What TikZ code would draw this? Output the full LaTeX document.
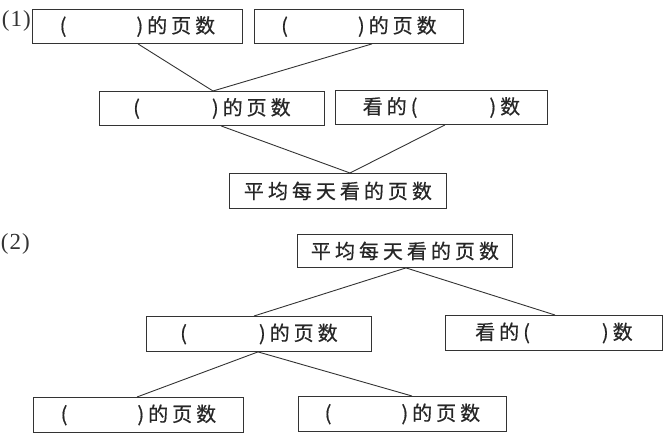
\documentclass[tikz,border=0pt]{standalone}
\usepackage{fontspec}
\newfontfamily\cjk[LetterSpace=20,FakeBold=0.6]{Noto Sans CJK SC}
\newfontfamily\labfont{Liberation Serif}
\begin{document}
\begin{tikzpicture}[x=1pt,y=-1pt,
  box/.style={draw=black!80,line width=0.9pt,anchor=north west,inner sep=0pt,
    text=black!85,font=\cjk\fontsize{20}{20}\selectfont},
  conn/.style={draw=black!80,line width=0.9pt},
  lab/.style={anchor=east,inner sep=0pt,text=black!80,font=\labfont\fontsize{23}{26}\selectfont}]
\useasboundingbox (0,0) rectangle (665,437);
% (1)
\node[lab] (l1) at (31,21) {(\kern1pt1\kern1pt)};
\node[box,minimum width=210pt,minimum height=34pt] (A1) at (32,9) {(\hspace{70pt})的页数};
\node[box,minimum width=209pt,minimum height=34pt] (A2) at (254,9) {(\hspace{70pt})的页数};
\node[box,minimum width=225pt,minimum height=34pt] (B1) at (99,91) {(\hspace{72pt})的页数};
\node[box,minimum width=212pt,minimum height=34pt] (B2) at (335,90) {看的(\hspace{72pt})数};
\node[box,minimum width=217pt,minimum height=35pt] (C) at (229,173) {平均每天看的页数};
\draw[conn] ([xshift=106pt]A1.south west) -- ([xshift=114pt]B1.north west);
\draw[conn] ([xshift=118pt]A2.south west) -- ([xshift=114pt]B1.north west);
\draw[conn] ([xshift=122pt]B1.south west) -- ([xshift=121pt]C.north west);
\draw[conn] ([xshift=110pt]B2.south west) -- ([xshift=121pt]C.north west);
% (2)
\node[lab] (l2) at (30,244) {(\kern1pt2\kern1pt)};
\node[box,minimum width=215pt,minimum height=33pt] (D) at (297,234) {平均每天看的页数};
\node[box,minimum width=225pt,minimum height=35pt] (E) at (146,316) {(\hspace{72pt})的页数};
\node[box,minimum width=217pt,minimum height=35pt] (F) at (445,315) {看的(\hspace{72pt})数};
\node[box,minimum width=210pt,minimum height=35pt] (G) at (33,397) {(\hspace{70pt})的页数};
\node[box,minimum width=208pt,minimum height=35pt] (H) at (298,396) {(\hspace{70pt})的页数};
\draw[conn] ([xshift=109pt]D.south west) -- ([xshift=108pt]E.north west);
\draw[conn] ([xshift=109pt]D.south west) -- ([xshift=110pt]F.north west);
\draw[conn] ([xshift=112pt]E.south west) -- ([xshift=104pt]G.north west);
\draw[conn] ([xshift=112pt]E.south west) -- ([xshift=114pt]H.north west);
\end{tikzpicture}
\end{document}
